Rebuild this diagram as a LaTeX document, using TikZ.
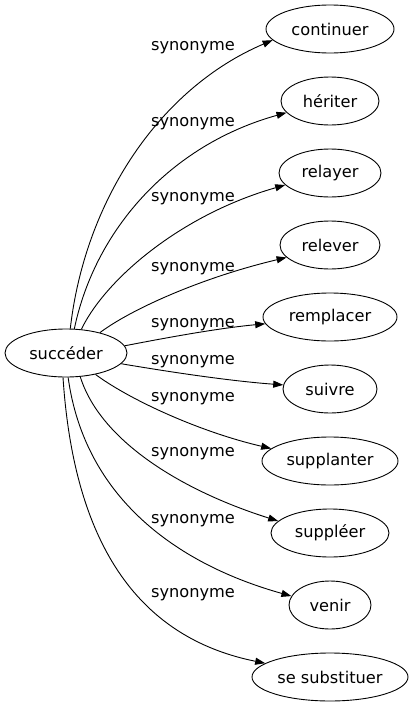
\documentclass[tikz,border=0pt]{standalone}
\usepackage{fontspec}
\setmainfont{DejaVu Sans}
\usetikzlibrary{shapes.geometric,arrows.meta}
\begin{document}
\begin{tikzpicture}[x=1pt,y=-1pt,
  every node/.style={font=\fontsize{16.2}{19}\selectfont},
  term/.style={draw, ellipse, inner sep=0pt, minimum height=48pt, line width=0.9pt},
  lab/.style={inner sep=0pt},
  syn/.style={draw, line width=0.9pt, -{Triangle[length=10pt,width=7pt]}}]
\useasboundingbox (0,0) rectangle (414,707);
\node[term, minimum width=122pt] (s) at (66,353) {succéder};
\node[term, minimum width=128pt] (t1) at (330,29) {continuer};
\node[term, minimum width=98pt] (t2) at (330,101) {hériter};
\node[term, minimum width=102pt] (t3) at (330,173) {relayer};
\node[term, minimum width=100pt] (t4) at (330,245) {relever};
\node[term, minimum width=134pt] (t5) at (330,317) {remplacer};
\node[term, minimum width=94pt] (t6) at (330,389) {suivre};
\node[term, minimum width=136pt] (t7) at (330,461) {supplanter};
\node[term, minimum width=118pt] (t8) at (330,533) {suppléer};
\node[term, minimum width=82pt] (t9) at (330,605) {venir};
\node[term, minimum width=156pt] (t10) at (330,677) {se substituer};
\node[lab] (l1) at (193,48) {synonyme};
\node[lab] (l2) at (193,124) {synonyme};
\node[lab] (l3) at (193,199) {synonyme};
\node[lab] (l4) at (193,269) {synonyme};
\node[lab] (l5) at (193,325) {synonyme};
\node[lab] (l6) at (193,362) {synonyme};
\node[lab] (l7) at (193,399) {synonyme};
\node[lab] (l8) at (193,454) {synonyme};
\node[lab] (l9) at (193,521) {synonyme};
\node[lab] (l10) at (193,595) {synonyme};
\draw[syn] (s.80) .. controls (85,200) and (160,88) .. (t1.191);
\draw[syn] (s.71) .. controls (95,230) and (170,145) .. (t2.195);
\draw[syn] (s.57) .. controls (105,280) and (180,215) .. (t3.195);
\draw[syn] (s.31) .. controls (130,310) and (200,278) .. (t4.196);
\draw[syn] (s.7) .. controls (170,337) and (220,328) .. (t5.186);
\draw[syn] (s.349) .. controls (170,372) and (230,381) .. (t6.175);
\draw[syn] (s.324) .. controls (130,400) and (200,432) .. (t7.168);
\draw[syn] (s.301) .. controls (100,440) and (180,490) .. (t8.167);
\draw[syn] (s.275) .. controls (85,500) and (180,565) .. (t9.167);
\draw[syn] (s.263) .. controls (75,560) and (150,640) .. (t10.168);
\end{tikzpicture}
\end{document}
